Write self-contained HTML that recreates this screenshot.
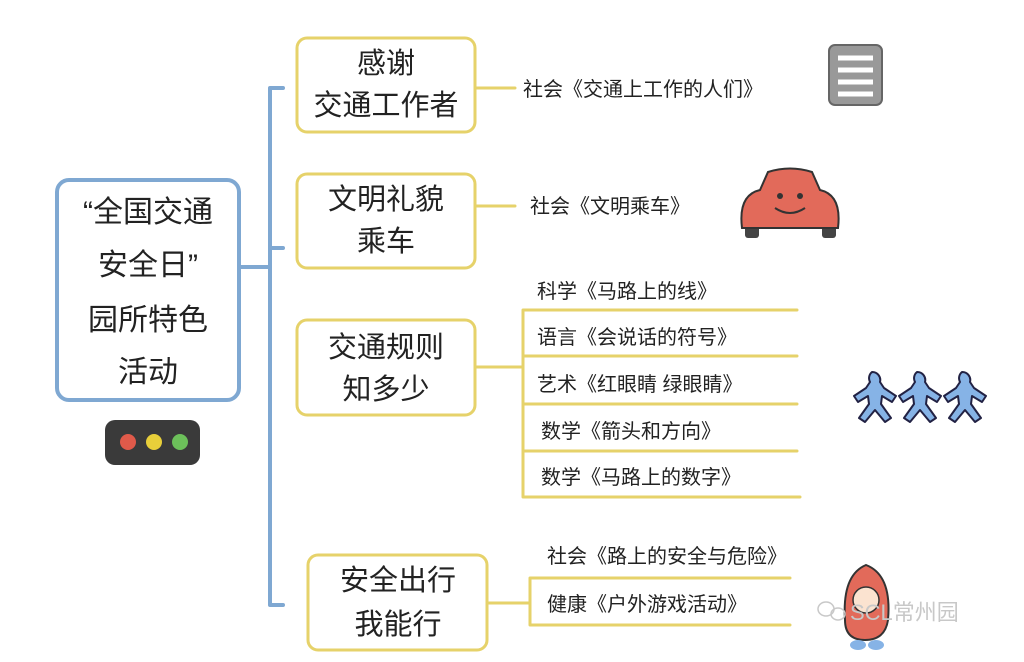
<!DOCTYPE html>
<html><head><meta charset="utf-8"><style>
html,body{margin:0;padding:0;background:#fff;}
svg text{font-family:"Liberation Sans","WenQuanYi Zen Hei","Noto Sans CJK SC",sans-serif;fill:#222;}
</style></head><body>
<svg width="1024" height="657" viewBox="0 0 1024 657" xmlns="http://www.w3.org/2000/svg">
<g fill="none" stroke="#7fa8d2" stroke-width="4" stroke-linecap="round">
<rect x="57" y="180" width="182" height="220" rx="12"/>
<path d="M240 267 H270 M270 88 V605 M270 88 H283 M270 248 H283 M270 605 H283"/>
</g>
<g font-size="30" text-anchor="middle">
<text x="148" y="222">“全国交通</text>
<text x="148" y="275">安全日”</text>
<text x="148" y="330">园所特色</text>
<text x="148" y="382">活动</text>
</g>
<rect x="105" y="420" width="95" height="45" rx="10" fill="#3a3a3a"/>
<circle cx="128" cy="442" r="8" fill="#e05a4a"/><circle cx="154" cy="442" r="8" fill="#e8cf3a"/><circle cx="180" cy="442" r="8" fill="#6cc05a"/>
<g fill="none" stroke="#e6d26a" stroke-width="3" stroke-linecap="round">
<rect x="297" y="38" width="178" height="94" rx="10"/>
<rect x="297" y="174" width="178" height="94" rx="10"/>
<rect x="297" y="320" width="178" height="95" rx="10"/>
<rect x="308" y="555" width="179" height="95" rx="10"/>
<path d="M475 88 H515 M475 206 H515 M475 367 H523 M523 310 V497 M523 310 H797 M523 356 H797 M523 404 H797 M523 451 H797 M523 497 H800 M487 603 H530 M530 578 V625 M530 578 H790 M530 625 H790"/>
</g>
<g font-size="29" text-anchor="middle">
<text x="386" y="73">感谢</text><text x="386" y="115">交通工作者</text>
<text x="386" y="209">文明礼貌</text><text x="386" y="251">乘车</text>
<text x="386" y="357">交通规则</text><text x="386" y="399">知多少</text>
<text x="398" y="590">安全出行</text><text x="398" y="634">我能行</text>
</g>
<g font-size="20">
<text x="523" y="96">社会《交通上工作的人们》</text>
<text x="530" y="213">社会《文明乘车》</text>
<text x="537" y="298">科学《马路上的线》</text>
<text x="537" y="344">语言《会说话的符号》</text>
<text x="537" y="391">艺术《红眼睛 绿眼睛》</text>
<text x="541" y="438">数学《箭头和方向》</text>
<text x="541" y="484">数学《马路上的数字》</text>
<text x="547" y="563">社会《路上的安全与危险》</text>
<text x="547" y="611">健康《户外游戏活动》</text>
</g>
<rect x="829" y="45" width="53" height="60" rx="6" fill="#999" stroke="#666" stroke-width="2"/>
<g stroke="#fff" stroke-width="5"><path d="M838 58H873 M838 70H873 M838 82H873 M838 94H873"/></g>
<rect x="745" y="222" width="14" height="16" rx="3" fill="#444"/><rect x="822" y="222" width="14" height="16" rx="3" fill="#444"/>
<path d="M742 228 Q738 195 760 190 L768 172 Q790 165 812 172 L820 190 Q842 195 838 228 Z" fill="#e26a5a" stroke="#333" stroke-width="2"/>
<circle cx="780" cy="196" r="3" fill="#333"/><circle cx="800" cy="196" r="3" fill="#333"/>
<path d="M775 208 Q790 218 805 208" stroke="#333" fill="none" stroke-width="2"/>
<g fill="#86b3e6" stroke="#224" stroke-width="2" stroke-linejoin="round">
<path d="M872 372 a8 8 0 0 1 8 10 l4 6 l12 8 l-4 6 l-10 -6 l-1 8 l10 14 l-6 4 l-10 -12 l-10 12 l-6 -4 l10 -14 l-1 -8 l-10 6 l-4 -6 l12 -8 l4 -6 a8 8 0 0 1 2 -10 z"/>
<path d="M917 372 a8 8 0 0 1 8 10 l4 6 l12 8 l-4 6 l-10 -6 l-1 8 l10 14 l-6 4 l-10 -12 l-10 12 l-6 -4 l10 -14 l-1 -8 l-10 6 l-4 -6 l12 -8 l4 -6 a8 8 0 0 1 2 -10 z"/>
<path d="M962 372 a8 8 0 0 1 8 10 l4 6 l12 8 l-4 6 l-10 -6 l-1 8 l10 14 l-6 4 l-10 -12 l-10 12 l-6 -4 l10 -14 l-1 -8 l-10 6 l-4 -6 l12 -8 l4 -6 a8 8 0 0 1 2 -10 z"/>
</g>
<path d="M866 565 Q842 575 845 620 Q845 640 865 640 Q885 640 888 620 Q892 575 866 565 Z" fill="#e26a5a" stroke="#333" stroke-width="2"/>
<circle cx="866" cy="600" r="13" fill="#fbe3d0" stroke="#333" stroke-width="1.5"/>
<ellipse cx="858" cy="645" rx="8" ry="5" fill="#86b3e6"/><ellipse cx="876" cy="645" rx="8" ry="5" fill="#86b3e6"/>
<g fill="none" stroke="#c8c8c8" stroke-width="1.5"><ellipse cx="826" cy="609" rx="8" ry="7"/><ellipse cx="838" cy="614" rx="7" ry="6"/></g>
<text x="850" y="620" font-size="22" style="fill:#c8c8c8">SCL常州园</text>
</svg>
</body></html>
